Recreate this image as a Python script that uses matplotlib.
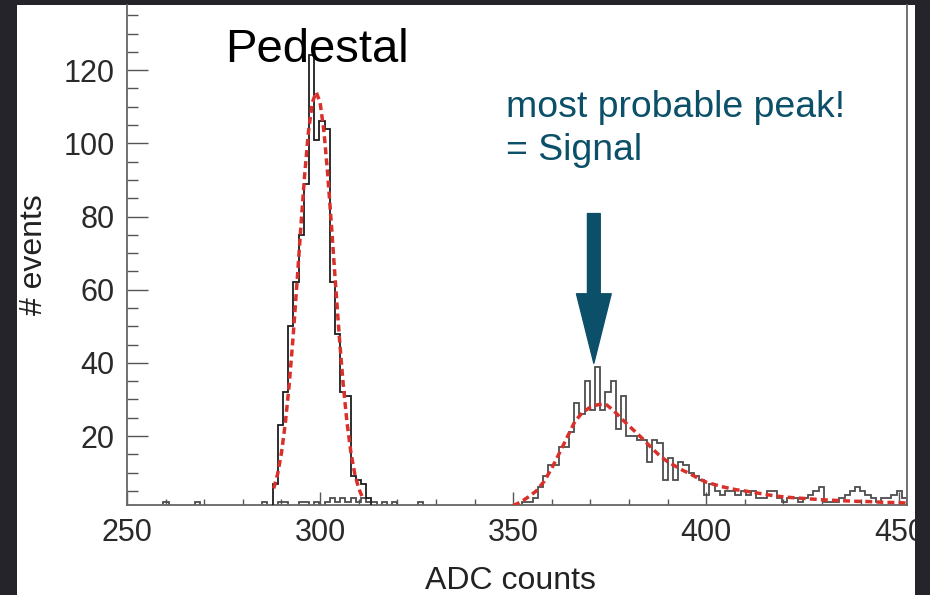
import matplotlib

matplotlib.use("Agg")
import matplotlib.pyplot as plt
import numpy as np
from matplotlib.patches import Rectangle
from matplotlib.ticker import MultipleLocator
from matplotlib.transforms import Bbox, TransformedBbox

plt.rcParams["font.family"] = ["Liberation Sans", "DejaVu Sans"]

# histogram binning: 150 bins over 250..452 ADC counts
X_MIN, X_MAX, N_BINS = 250, 452, 150

# pedestal run (black histogram)
PEDESTAL_COUNTS = [
    0, 0, 0, 0, 0, 0, 0, 0, 0, 0, 0, 0, 0, 0, 0,
    0, 0, 0, 0, 0, 0, 0, 0, 0, 0, 0, 0, 0, 7, 23,
    32, 50, 62, 75, 89, 124, 101, 106, 104, 62, 48, 32, 31, 9, 8,
    7, 3, 0, 0, 0, 0, 0, 0, 0, 0, 0, 0, 0, 0, 0,
    0, 0, 0, 0, 0, 0, 0, 0, 0, 0, 0, 0, 0, 0, 0,
    0, 0, 0, 0, 0, 0, 0, 0, 0, 0, 0, 0, 0, 0, 0,
    0, 0, 0, 0, 0, 0, 0, 0, 0, 0, 0, 0, 0, 0, 0,
    0, 0, 0, 0, 0, 0, 0, 0, 0, 0, 0, 0, 0, 0, 0,
    0, 0, 0, 0, 0, 0, 0, 0, 0, 0, 0, 0, 0, 0, 0,
    0, 0, 0, 0, 0, 0, 0, 0, 0, 0, 0, 0, 0, 0, 0,
]

# signal run (grey histogram)
SIGNAL_COUNTS = [
    0, 0, 0, 0, 0, 0, 0, 2, 0, 0, 0, 0, 0, 2, 0,
    0, 0, 0, 0, 0, 0, 0, 0, 0, 0, 0, 2, 0, 0, 2,
    2, 0, 0, 2, 2, 0, 2, 0, 2, 3, 2, 3, 2, 3, 2,
    3, 2, 2, 0, 2, 0, 2, 0, 0, 0, 0, 2, 0, 0, 0,
    0, 0, 0, 0, 0, 0, 0, 0, 0, 0, 0, 0, 0, 0, 0,
    0, 2, 2, 3, 6, 9, 12, 12, 17, 17, 21, 29, 26, 35, 27,
    39, 27, 32, 35, 22, 31, 20, 20, 19, 19, 13, 19, 18, 8, 14,
    8, 13, 12, 10, 9, 8, 4, 7, 5, 4, 5, 5, 4, 5, 4,
    5, 3, 3, 5, 5, 3, 2, 3, 3, 2, 3, 4, 5, 6, 2,
    2, 2, 3, 4, 5, 6, 5, 4, 3, 2, 3, 3, 4, 5, 3,
]

# fitted curves (red dashed)
PED_FIT_X = [288, 289, 290, 291, 292, 293, 294, 295, 296, 297, 298, 299,
             300, 301, 302, 303, 304, 305, 306, 307, 308, 309, 310, 311]
PED_FIT_Y = [5.7, 9.6, 15.4, 23.5, 34.0, 46.9, 61.5, 76.8, 91.3, 103.3, 111.2, 114.0,
             111.2, 103.3, 91.3, 76.8, 61.5, 46.9, 34.0, 23.5, 15.4, 9.6, 5.7, 3.2]

SIG_FIT_X = [350, 352, 354, 356, 358, 360, 362, 364, 366, 368, 370, 372, 374, 376,
             378, 380, 382, 384, 386, 388, 390, 392, 394, 396, 398, 400, 402, 404,
             406, 408, 410, 414, 418, 422, 426, 430, 434, 438, 442, 446, 450, 452]
SIG_FIT_Y = [1.0, 2.0, 3.4, 5.0, 7.6, 11.2, 15.4, 19.7, 24.0, 26.5, 27.9, 28.6, 28.7, 27.0,
             24.8, 22.8, 20.8, 18.8, 16.6, 14.6, 13.0, 11.8, 10.6, 9.6, 8.4, 7.4, 6.8, 6.2,
             5.7, 5.3, 5.0, 4.3, 3.6, 3.2, 2.9, 2.6, 2.4, 2.2, 2.1, 1.9, 1.8, 1.7]

PEAK_X, PEAK_Y = 370.9, 39.9
ARROW_TOP_Y = 80.8

TEAL = "#0b4f68"
W, H = 930, 595

fig = plt.figure(figsize=(W / 100, H / 100), dpi=100, facecolor="#24242a")
panel = Rectangle((17 / W, 0), (915 - 17) / W, (H - 5) / H, transform=fig.transFigure,
                  facecolor="white", edgecolor="none", zorder=-1)
fig.patches.append(panel)

ax = fig.add_axes([127 / W, (H - 504.5) / H, 780 / W, (504.5 - 5) / H])
ax.set_zorder(1)
ax.set_facecolor("white")

edges = np.linspace(X_MIN, X_MAX, N_BINS + 1)
ax.stairs(SIGNAL_COUNTS, edges, color="#4d4d4d", linewidth=1.3, zorder=2)
ax.stairs(PEDESTAL_COUNTS, edges, color="#1e1e1e", linewidth=1.3, zorder=3)

dash = (0, (2.0, 1.2))
ax.plot(PED_FIT_X, PED_FIT_Y, color="#d9302a", linewidth=2.5, linestyle=dash, zorder=4)
ax.plot(SIG_FIT_X, SIG_FIT_Y, color="#d9302a", linewidth=2.5, linestyle=dash, zorder=4)

ax.set_xlim(X_MIN, X_MAX)
ax.set_ylim(1.3, 137.8)

ax.xaxis.set_major_locator(MultipleLocator(50))
ax.xaxis.set_minor_locator(MultipleLocator(10))
ax.yaxis.set_minor_locator(MultipleLocator(5))
ax.set_yticks([20, 40, 60, 80, 100, 120])

ax.tick_params(axis="x", which="major", direction="in", length=9.5, width=1.0,
               color="#555555", labelsize=22, labelcolor="#2a2a2a", pad=9.5)
ax.tick_params(axis="x", which="minor", direction="in", length=4.5, width=1.0, color="#555555")
ax.tick_params(axis="y", which="major", direction="in", length=15, width=1.0,
               color="#555555", labelsize=22, labelcolor="#2a2a2a", pad=9)
ax.tick_params(axis="y", which="minor", direction="in", length=8, width=1.0, color="#555555")

for side in ("left", "bottom", "right"):
    ax.spines[side].set_color("#666666")
    ax.spines[side].set_linewidth(1.3)
ax.spines["top"].set_visible(False)

fig.text(510 / W, (H - 589) / H, "ADC counts", fontsize=23, color="#222222",
         ha="center", va="baseline")
fig.text(34 / W, (H - 255) / H, "# events", fontsize=23, color="#222222",
         rotation=90, ha="center", va="center")

fig.text(225 / W, (H - 62.5) / H, "Pedestal", fontsize=34, color="black",
         ha="left", va="baseline", zorder=6)
fig.text(506 / W, (H - 116.7) / H, "most probable peak!", fontsize=26.9, color=TEAL,
         ha="left", va="baseline", zorder=6)
fig.text(506 / W, (H - 160) / H, "= Signal", fontsize=26.9, color=TEAL,
         ha="left", va="baseline", zorder=6)

ax.annotate("", xy=(PEAK_X, PEAK_Y), xytext=(PEAK_X, ARROW_TOP_Y),
            arrowprops=dict(arrowstyle="simple,head_length=50,head_width=25,tail_width=9.2",
                            color=TEAL, shrinkA=0, shrinkB=0, mutation_scale=1),
            zorder=5)

# the "450" label is cut by the right edge of the white panel
fig.canvas.draw()
clip = TransformedBbox(Bbox.from_extents(17 / W, 0, 915 / W, 1), fig.transFigure)
for tick in ax.xaxis.get_major_ticks():
    tick.label1.set_clip_box(clip)
    tick.label1.set_clip_on(True)

fig.savefig("out.png", dpi=100, facecolor=fig.get_facecolor())
